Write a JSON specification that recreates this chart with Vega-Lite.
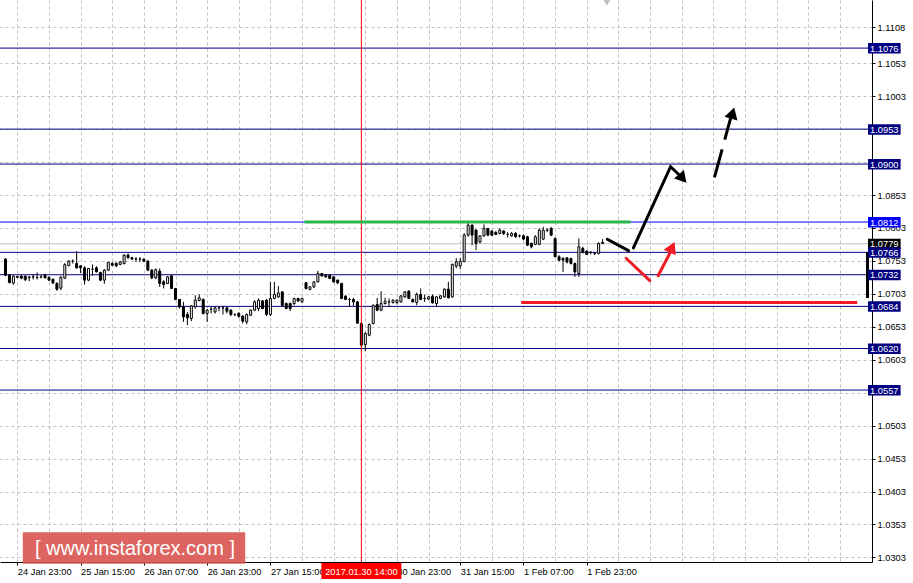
{
"$schema":"https://vega.github.io/schema/vega-lite/v6.json",
"width":872,"height":562,
"autosize":{"type":"none"},
"padding":{"left":0,"top":0,"right":41,"bottom":21},
"background":"white",
"config":{"view":{"stroke":null},"font":"Liberation Sans","text":{"font":"Liberation Sans"}},
"resolve":{"axis":{"x":"independent","y":"independent"}},
"datasets":{
"candles":[
{"k":0,"o":1.07557,"h":1.07572,"l":1.07298,"c":1.07314},
{"k":1,"o":1.07314,"h":1.07329,"l":1.07192,"c":1.07200},
{"k":2,"o":1.07192,"h":1.07306,"l":1.07169,"c":1.07298},
{"k":3,"o":1.07291,"h":1.07306,"l":1.07268,"c":1.07283},
{"k":4,"o":1.07298,"h":1.07314,"l":1.07253,"c":1.07268},
{"k":5,"o":1.07298,"h":1.07306,"l":1.07223,"c":1.07245},
{"k":6,"o":1.07283,"h":1.07303,"l":1.07223,"c":1.07276},
{"k":7,"o":1.07288,"h":1.07324,"l":1.07248,"c":1.07288},
{"k":8,"o":1.07279,"h":1.07355,"l":1.07248,"c":1.07279},
{"k":9,"o":1.07288,"h":1.07314,"l":1.07264,"c":1.07288},
{"k":10,"o":1.07314,"h":1.07333,"l":1.07264,"c":1.07273},
{"k":11,"o":1.07279,"h":1.07298,"l":1.07223,"c":1.07238},
{"k":12,"o":1.07248,"h":1.07268,"l":1.07177,"c":1.07197},
{"k":13,"o":1.07188,"h":1.07207,"l":1.07075,"c":1.07101},
{"k":14,"o":1.07116,"h":1.07298,"l":1.07086,"c":1.07283},
{"k":15,"o":1.07268,"h":1.07496,"l":1.07253,"c":1.07473},
{"k":16,"o":1.07458,"h":1.07541,"l":1.07450,"c":1.07526},
{"k":17,"o":1.07526,"h":1.07552,"l":1.07491,"c":1.07526},
{"k":18,"o":1.07491,"h":1.07678,"l":1.07415,"c":1.07424},
{"k":19,"o":1.07455,"h":1.07465,"l":1.07344,"c":1.07424},
{"k":20,"o":1.07424,"h":1.07450,"l":1.07172,"c":1.07238},
{"k":21,"o":1.07238,"h":1.07424,"l":1.07223,"c":1.07415},
{"k":22,"o":1.07405,"h":1.07476,"l":1.07303,"c":1.07405},
{"k":23,"o":1.07424,"h":1.07450,"l":1.07355,"c":1.07364},
{"k":24,"o":1.07355,"h":1.07364,"l":1.07223,"c":1.07238},
{"k":25,"o":1.07238,"h":1.07405,"l":1.07182,"c":1.07390},
{"k":26,"o":1.07390,"h":1.07515,"l":1.07374,"c":1.07506},
{"k":27,"o":1.07491,"h":1.07515,"l":1.07450,"c":1.07465},
{"k":28,"o":1.07491,"h":1.07511,"l":1.07435,"c":1.07455},
{"k":29,"o":1.07476,"h":1.07526,"l":1.07465,"c":1.07515},
{"k":30,"o":1.07491,"h":1.07628,"l":1.07476,"c":1.07618},
{"k":31,"o":1.07618,"h":1.07643,"l":1.07567,"c":1.07577},
{"k":32,"o":1.07577,"h":1.07592,"l":1.07552,"c":1.07557},
{"k":33,"o":1.07557,"h":1.07587,"l":1.07515,"c":1.07557},
{"k":34,"o":1.07557,"h":1.07587,"l":1.07515,"c":1.07557},
{"k":35,"o":1.07557,"h":1.07567,"l":1.07511,"c":1.07526},
{"k":36,"o":1.07526,"h":1.07541,"l":1.07374,"c":1.07390},
{"k":37,"o":1.07390,"h":1.07405,"l":1.07253,"c":1.07273},
{"k":38,"o":1.07273,"h":1.07415,"l":1.07253,"c":1.07397},
{"k":39,"o":1.07374,"h":1.07415,"l":1.07136,"c":1.07188},
{"k":40,"o":1.07212,"h":1.07238,"l":1.07112,"c":1.07172},
{"k":41,"o":1.07188,"h":1.07298,"l":1.07177,"c":1.07288},
{"k":42,"o":1.07303,"h":1.07314,"l":1.07101,"c":1.07112},
{"k":43,"o":1.07112,"h":1.07116,"l":1.06934,"c":1.06945},
{"k":44,"o":1.06945,"h":1.06949,"l":1.06807,"c":1.06831},
{"k":45,"o":1.06831,"h":1.06908,"l":1.06604,"c":1.06680},
{"k":46,"o":1.06717,"h":1.06756,"l":1.06554,"c":1.06665},
{"k":47,"o":1.06656,"h":1.06857,"l":1.06615,"c":1.06847},
{"k":48,"o":1.06831,"h":1.07010,"l":1.06807,"c":1.06934},
{"k":49,"o":1.06929,"h":1.07020,"l":1.06918,"c":1.06969},
{"k":50,"o":1.06945,"h":1.06960,"l":1.06717,"c":1.06732},
{"k":51,"o":1.06732,"h":1.06797,"l":1.06604,"c":1.06782},
{"k":52,"o":1.06797,"h":1.06831,"l":1.06732,"c":1.06797},
{"k":53,"o":1.06756,"h":1.06831,"l":1.06732,"c":1.06817},
{"k":54,"o":1.06817,"h":1.06831,"l":1.06767,"c":1.06817},
{"k":55,"o":1.06817,"h":1.06847,"l":1.06717,"c":1.06817},
{"k":56,"o":1.06817,"h":1.06831,"l":1.06732,"c":1.06767},
{"k":57,"o":1.06782,"h":1.06797,"l":1.06691,"c":1.06717},
{"k":58,"o":1.06717,"h":1.06732,"l":1.06691,"c":1.06717},
{"k":59,"o":1.06732,"h":1.06752,"l":1.06665,"c":1.06691},
{"k":60,"o":1.06691,"h":1.06706,"l":1.06580,"c":1.06615},
{"k":61,"o":1.06604,"h":1.06732,"l":1.06569,"c":1.06717},
{"k":62,"o":1.06706,"h":1.06797,"l":1.06691,"c":1.06782},
{"k":63,"o":1.06782,"h":1.06934,"l":1.06767,"c":1.06908},
{"k":64,"o":1.06807,"h":1.06960,"l":1.06767,"c":1.06934},
{"k":65,"o":1.06923,"h":1.06934,"l":1.06797,"c":1.06807},
{"k":66,"o":1.06934,"h":1.06949,"l":1.06691,"c":1.06717},
{"k":67,"o":1.06717,"h":1.07212,"l":1.06691,"c":1.06960},
{"k":68,"o":1.06960,"h":1.07212,"l":1.06949,"c":1.07020},
{"k":69,"o":1.06984,"h":1.07147,"l":1.06969,"c":1.07044},
{"k":70,"o":1.07060,"h":1.07070,"l":1.06831,"c":1.06857},
{"k":71,"o":1.06883,"h":1.06899,"l":1.06797,"c":1.06807},
{"k":72,"o":1.06883,"h":1.06899,"l":1.06767,"c":1.06807},
{"k":73,"o":1.06883,"h":1.06969,"l":1.06857,"c":1.06960},
{"k":74,"o":1.06960,"h":1.06969,"l":1.06908,"c":1.06923},
{"k":75,"o":1.06908,"h":1.06969,"l":1.06899,"c":1.06960},
{"k":76,"o":1.07197,"h":1.07212,"l":1.07096,"c":1.07112},
{"k":77,"o":1.07096,"h":1.07147,"l":1.07086,"c":1.07136},
{"k":78,"o":1.07136,"h":1.07223,"l":1.07116,"c":1.07212},
{"k":79,"o":1.07212,"h":1.07379,"l":1.07200,"c":1.07339},
{"k":80,"o":1.07339,"h":1.07344,"l":1.07288,"c":1.07303},
{"k":81,"o":1.07314,"h":1.07329,"l":1.07273,"c":1.07288},
{"k":82,"o":1.07314,"h":1.07324,"l":1.07253,"c":1.07264},
{"k":83,"o":1.07288,"h":1.07298,"l":1.07200,"c":1.07212},
{"k":84,"o":1.07238,"h":1.07248,"l":1.07177,"c":1.07197},
{"k":85,"o":1.07188,"h":1.07197,"l":1.06949,"c":1.06960},
{"k":86,"o":1.06994,"h":1.07010,"l":1.06934,"c":1.06945},
{"k":87,"o":1.06945,"h":1.06969,"l":1.06831,"c":1.06945},
{"k":88,"o":1.06945,"h":1.06969,"l":1.06847,"c":1.06908},
{"k":89,"o":1.06908,"h":1.06923,"l":1.06580,"c":1.06585},
{"k":90,"o":1.06580,"h":1.06604,"l":1.06159,"c":1.06250},
{"k":91,"o":1.06261,"h":1.06448,"l":1.06159,"c":1.06428},
{"k":92,"o":1.06402,"h":1.06580,"l":1.06387,"c":1.06565},
{"k":93,"o":1.06580,"h":1.06868,"l":1.06565,"c":1.06857},
{"k":94,"o":1.06868,"h":1.06969,"l":1.06767,"c":1.06782},
{"k":95,"o":1.06782,"h":1.07070,"l":1.06767,"c":1.06883},
{"k":96,"o":1.06883,"h":1.06969,"l":1.06868,"c":1.06918},
{"k":97,"o":1.06908,"h":1.06960,"l":1.06831,"c":1.06908},
{"k":98,"o":1.06899,"h":1.06949,"l":1.06883,"c":1.06934},
{"k":99,"o":1.06899,"h":1.06949,"l":1.06868,"c":1.06934},
{"k":100,"o":1.06908,"h":1.07010,"l":1.06899,"c":1.06999},
{"k":101,"o":1.06984,"h":1.07070,"l":1.06969,"c":1.07060},
{"k":102,"o":1.07070,"h":1.07086,"l":1.06949,"c":1.06960},
{"k":103,"o":1.06945,"h":1.06960,"l":1.06899,"c":1.06908},
{"k":104,"o":1.06899,"h":1.07050,"l":1.06857,"c":1.07020},
{"k":105,"o":1.07020,"h":1.07112,"l":1.06934,"c":1.06945},
{"k":106,"o":1.06960,"h":1.07020,"l":1.06908,"c":1.06960},
{"k":107,"o":1.06949,"h":1.06994,"l":1.06934,"c":1.06984},
{"k":108,"o":1.06994,"h":1.07020,"l":1.06883,"c":1.06893},
{"k":109,"o":1.06883,"h":1.06994,"l":1.06831,"c":1.06984},
{"k":110,"o":1.06960,"h":1.07010,"l":1.06949,"c":1.06999},
{"k":111,"o":1.06984,"h":1.07112,"l":1.06969,"c":1.07101},
{"k":112,"o":1.07101,"h":1.07212,"l":1.06960,"c":1.06969},
{"k":113,"o":1.06984,"h":1.07491,"l":1.06972,"c":1.07476},
{"k":114,"o":1.07450,"h":1.07572,"l":1.07420,"c":1.07518},
{"k":115,"o":1.07455,"h":1.07577,"l":1.07405,"c":1.07526},
{"k":116,"o":1.07518,"h":1.07952,"l":1.07511,"c":1.07921},
{"k":117,"o":1.07921,"h":1.08104,"l":1.07896,"c":1.08073},
{"k":118,"o":1.08073,"h":1.08084,"l":1.07769,"c":1.07921},
{"k":119,"o":1.07997,"h":1.08012,"l":1.07694,"c":1.07795},
{"k":120,"o":1.07820,"h":1.07921,"l":1.07795,"c":1.07911},
{"k":121,"o":1.07911,"h":1.08084,"l":1.07896,"c":1.08023},
{"k":122,"o":1.08023,"h":1.08028,"l":1.07906,"c":1.07921},
{"k":123,"o":1.07982,"h":1.07997,"l":1.07906,"c":1.07921},
{"k":124,"o":1.07962,"h":1.07982,"l":1.07921,"c":1.07932},
{"k":125,"o":1.07947,"h":1.08023,"l":1.07932,"c":1.07997},
{"k":126,"o":1.07982,"h":1.07997,"l":1.07921,"c":1.07947},
{"k":127,"o":1.07932,"h":1.07967,"l":1.07884,"c":1.07932},
{"k":128,"o":1.07911,"h":1.07967,"l":1.07896,"c":1.07947},
{"k":129,"o":1.07947,"h":1.07967,"l":1.07884,"c":1.07896},
{"k":130,"o":1.07911,"h":1.07932,"l":1.07884,"c":1.07911},
{"k":131,"o":1.07911,"h":1.07932,"l":1.07845,"c":1.07861},
{"k":132,"o":1.07896,"h":1.07911,"l":1.07754,"c":1.07769},
{"k":133,"o":1.07795,"h":1.07810,"l":1.07719,"c":1.07744},
{"k":134,"o":1.07780,"h":1.07921,"l":1.07769,"c":1.07896},
{"k":135,"o":1.07780,"h":1.08023,"l":1.07769,"c":1.07997},
{"k":136,"o":1.07861,"h":1.08047,"l":1.07845,"c":1.07997},
{"k":137,"o":1.07997,"h":1.08023,"l":1.07967,"c":1.07997},
{"k":138,"o":1.08023,"h":1.08047,"l":1.07906,"c":1.07921},
{"k":139,"o":1.07871,"h":1.07884,"l":1.07587,"c":1.07592},
{"k":140,"o":1.07592,"h":1.07618,"l":1.07526,"c":1.07541},
{"k":141,"o":1.07567,"h":1.07587,"l":1.07364,"c":1.07541},
{"k":142,"o":1.07577,"h":1.07587,"l":1.07491,"c":1.07515},
{"k":143,"o":1.07567,"h":1.07577,"l":1.07476,"c":1.07491},
{"k":144,"o":1.07491,"h":1.07506,"l":1.07288,"c":1.07364},
{"k":145,"o":1.07339,"h":1.07871,"l":1.07288,"c":1.07744},
{"k":146,"o":1.07719,"h":1.07744,"l":1.07643,"c":1.07668},
{"k":147,"o":1.07678,"h":1.07694,"l":1.07618,"c":1.07628},
{"k":148,"o":1.07659,"h":1.07678,"l":1.07628,"c":1.07659},
{"k":149,"o":1.07643,"h":1.07659,"l":1.07618,"c":1.07643},
{"k":150,"o":1.07643,"h":1.07810,"l":1.07628,"c":1.07795},
{"k":151,"o":1.07810,"h":1.07861,"l":1.07792,"c":1.07795}
],
"levels":[
{"p":1.1076,"kind":"level"},{"p":1.0953,"kind":"level"},{"p":1.0900,"kind":"level"},
{"p":1.0812,"kind":"key"},{"p":1.0779,"kind":"bid"},{"p":1.0766,"kind":"level"},
{"p":1.0732,"kind":"level"},{"p":1.0684,"kind":"level"},{"p":1.0620,"kind":"level"},{"p":1.0557,"kind":"level"}
],
"targets":[
{"k":75.6,"k2":158.1,"p":1.0812,"kind":"resistance"},
{"k":130.4,"k2":215.4,"p":1.06899,"kind":"support"}
],
"arrows":[
{"seg":"a1","kind":"main","k":152.2,"p":1.07858},{"seg":"a1","kind":"main","k":157.55,"p":1.07685},
{"seg":"a2","kind":"main","k":158.8,"p":1.07726},{"seg":"a2","kind":"main","k":168.2,"p":1.08960},{"seg":"a2","kind":"main","k":170.95,"p":1.08803},
{"seg":"r1","kind":"alt","k":156.95,"p":1.07570},{"seg":"r1","kind":"alt","k":162.95,"p":1.07230},
{"seg":"r2","kind":"alt","k":165.05,"p":1.07305},{"seg":"r2","kind":"alt","k":168.3,"p":1.07680}
],
"dash":[{"seg":"d1","kind":"main","k":179.3,"p":1.08799},{"seg":"d1","kind":"main","k":183.4,"p":1.09699}]
},
"layer":[
{"data":{"name":"levels"},"mark":{"type":"rule","strokeWidth":1},
 "encoding":{
  "y":{"field":"p","type":"quantitative","scale":{"domain":[1.0296,1.1149],"nice":false,"zero":false},
   "axis":{"orient":"right","values":[1.0303,1.0353,1.0403,1.0453,1.0503,1.0553,1.0603,1.0653,1.0703,1.0753,1.0803,1.0853,1.0903,1.0953,1.1003,1.1053,1.1108],
    "format":".4f","labelExpr":"(datum.value==1.0903||datum.value==1.0953||datum.value==1.0553)?'':datum.label",
    "grid":true,"gridColor":"#c0c0c0","gridDash":[3,3],"gridWidth":1,"domainColor":"#000000","domainWidth":1,
    "tickColor":"#000000","tickSize":3,"labelFont":"Liberation Sans","labelFontSize":9.3,"labelColor":"#000000","labelPadding":2,
    "labelBaseline":"middle","labelOverlap":false,"labelBound":false,"labelFlush":false,"title":null}},
  "color":{"field":"kind","type":"nominal","legend":null,
   "scale":{"domain":["level","key","bid","resistance","support","main","alt"],"range":["#000080","#0000ff","#c0c0c0","#2db84d","#ed1c24","#000000","#ed1c24"]}}
 }},
{"data":{"name":"candles"},"mark":{"type":"rule","color":"#000000","strokeWidth":1},
 "encoding":{
  "x":{"field":"k","type":"quantitative","scale":{"domain":[-0.125,217.875],"nice":false,"zero":false},
   "axis":{"orient":"bottom","values":[3,11,19,27,35,43,51,59,67,75,83,91,99,107,115,123,131,139,147,155,163,171,179,187,195,203,211],
    "grid":true,"gridColor":"#c0c0c0","gridDash":[3,3],"gridWidth":1,"labels":false,"ticks":false,"domain":false,"title":null}},
  "y":{"field":"l","type":"quantitative","scale":{"domain":[1.0296,1.1149],"nice":false,"zero":false},"axis":null},
  "y2":{"field":"h"}
 }},
{"data":{"name":"candles"},"mark":{"type":"bar","size":2,"stroke":"#000000","strokeWidth":1},
 "encoding":{
  "x":{"field":"k","type":"quantitative","scale":{"domain":[-0.125,217.875],"nice":false,"zero":false},
   "axis":{"orient":"bottom","values":[3,19,35,51,67,83,99,115,131,147],
    "labelExpr":"['24 Jan 23:00','25 Jan 15:00','26 Jan 07:00','26 Jan 23:00','27 Jan 15:00','','30 Jan 23:00','31 Jan 15:00','1 Feb 07:00','1 Feb 23:00'][(datum.value-3)/16]",
    "grid":false,"domainColor":"#000000","domainWidth":1,"tickColor":"#000000","tickSize":3,"labelFont":"Liberation Sans","labelFontSize":9.3,
    "labelColor":"#000000","labelAlign":"left","labelBaseline":"top","labelPadding":2,"labelDx":-1,"labelOverlap":false,"labelFlush":false,"labelBound":false,"title":null}},
  "y":{"field":"o","type":"quantitative","scale":{"domain":[1.0296,1.1149],"nice":false,"zero":false},"axis":null},
  "y2":{"field":"c"},
  "fill":{"condition":{"test":"datum.c < datum.o","value":"#000000"},"value":"#ffffff"}
 }},
{"data":{"values":[{"k":90,"label":"2017.01.30 14:00"}]},"mark":{"type":"rule","color":"#ff0000","strokeWidth":1},
 "encoding":{"x":{"field":"k","type":"quantitative","axis":null}}},
{"data":{"name":"targets"},"mark":{"type":"rule","strokeWidth":3},
 "encoding":{
  "x":{"field":"k","type":"quantitative","axis":null},"x2":{"field":"k2"},
  "y":{"field":"p","type":"quantitative","axis":null},
  "color":{"field":"kind","type":"nominal","legend":null,
   "scale":{"domain":["level","key","bid","resistance","support","main","alt"],"range":["#000080","#0000ff","#c0c0c0","#2db84d","#ed1c24","#000000","#ed1c24"]}}
 }},
{"data":{"name":"arrows"},"mark":{"type":"line","strokeWidth":3,"strokeCap":"round"},
 "encoding":{
  "x":{"field":"k","type":"quantitative","axis":null},
  "y":{"field":"p","type":"quantitative","axis":null},
  "detail":{"field":"seg"},
  "color":{"field":"kind","type":"nominal","legend":null,
   "scale":{"domain":["level","key","bid","resistance","support","main","alt"],"range":["#000080","#0000ff","#c0c0c0","#2db84d","#ed1c24","#000000","#ed1c24"]}}
 }},
{"data":{"name":"dash"},"mark":{"type":"line","strokeWidth":3,"strokeDash":[29,10],"color":"#000000"},
 "encoding":{
  "x":{"field":"k","type":"quantitative","axis":null},
  "y":{"field":"p","type":"quantitative","axis":null}
 }},
{"data":{"values":[{"k":170.95,"p":1.08803}]},"mark":{"type":"point","shape":"triangle","filled":true,"size":170,"angle":139,"color":"#000000","opacity":1},
 "encoding":{"x":{"field":"k","type":"quantitative","axis":null},"y":{"field":"p","type":"quantitative","axis":null}}},
{"data":{"values":[{"k":183.75,"p":1.09745}]},"mark":{"type":"point","shape":"triangle","filled":true,"size":180,"angle":16,"color":"#000000","opacity":1},
 "encoding":{"x":{"field":"k","type":"quantitative","axis":null},"y":{"field":"p","type":"quantitative","axis":null}}},
{"data":{"values":[{"k":168.38,"p":1.07711}]},"mark":{"type":"point","shape":"triangle","filled":true,"size":180,"angle":25,"color":"#ed1c24","opacity":1},
 "encoding":{"x":{"field":"k","type":"quantitative","axis":null},"y":{"field":"p","type":"quantitative","axis":null}}},
{"data":{"values":[{"k":218.0,"p":1.07665,"p2":1.06967}]},"mark":{"type":"rule","strokeWidth":3,"color":"#000000"},
 "encoding":{"x":{"field":"k","type":"quantitative","axis":null},"y":{"field":"p","type":"quantitative","axis":null},"y2":{"field":"p2"}}},
{"data":{"values":[{"k":152.1,"p":1.11445}]},"mark":{"type":"point","shape":"triangle-down","filled":true,"size":45,"color":"#c0c0c0","opacity":1},
 "encoding":{"x":{"field":"k","type":"quantitative","axis":null},"y":{"field":"p","type":"quantitative","axis":null}}},
{"data":{"name":"levels"},"mark":{"type":"rect","yOffset":-5,"y2Offset":5.5},
 "encoding":{
  "x":{"datum":218.125,"type":"quantitative","axis":null},"x2":{"datum":226.375},
  "y":{"field":"p","type":"quantitative","axis":null},"y2":{"field":"p"},
  "fill":{"field":"kind","type":"nominal","legend":null,"scale":{"domain":["level","key","bid"],"range":["#000080","#0000ff","#000000"]}}
 }},
{"data":{"name":"levels"},"mark":{"type":"text","color":"#ffffff","fontSize":9.3,"align":"center","baseline":"middle","font":"Liberation Sans","dy":0.5},
 "encoding":{
  "x":{"datum":222.25,"type":"quantitative","axis":null},
  "y":{"field":"p","type":"quantitative","axis":null},
  "text":{"field":"p","type":"quantitative","format":".4f"}
 }},
{"data":{"values":[{"k":90,"label":"2017.01.30 14:00"}]},"mark":{"type":"rect","color":"#ff0000","xOffset":-40,"x2Offset":40,"yOffset":1,"y2Offset":17},
 "encoding":{"x":{"field":"k","type":"quantitative","axis":null},"x2":{"field":"k"},
  "y":{"datum":1.0296,"type":"quantitative","axis":null},"y2":{"datum":1.0296}}},
{"data":{"values":[{"k":90,"label":"2017.01.30 14:00"}]},"mark":{"type":"text","color":"#ffffff","fontSize":9.3,"align":"center","baseline":"middle","dy":9.5,"font":"Liberation Sans"},
 "encoding":{"x":{"field":"k","type":"quantitative","axis":null},"y":{"datum":1.0296,"type":"quantitative","axis":null},"text":{"field":"label"}}},
{"data":{"values":[{"site":"[ www.instaforex.com ]"}]},"mark":{"type":"rect","color":"#d9534f","opacity":0.9},
 "encoding":{"x":{"datum":4.375,"type":"quantitative","axis":null},"x2":{"datum":60.625},
  "y":{"datum":1.0341,"type":"quantitative","axis":null},"y2":{"datum":1.02935}}},
{"data":{"values":[{"site":"[ www.instaforex.com ]"}]},"mark":{"type":"text","color":"#ffffff","fontSize":20,"align":"center","baseline":"middle","font":"Liberation Sans"},
 "encoding":{"x":{"datum":32.75,"type":"quantitative","axis":null},"y":{"datum":1.03157,"type":"quantitative","axis":null},"text":{"field":"site"}}}
]
}
